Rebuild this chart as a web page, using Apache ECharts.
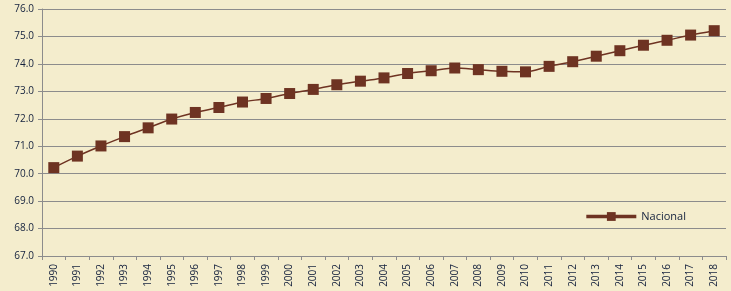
<!DOCTYPE html>
<html><head><meta charset="utf-8">
<script src="https://cdn.jsdelivr.net/npm/echarts@6/dist/echarts.min.js"></script>
<style>html,body{margin:0;padding:0;background:#f4edcd;}#c{width:731px;height:291px;}</style>
</head><body><div id="c"></div>
<script>
const years = ['1990','1991','1992','1993','1994','1995','1996','1997','1998','1999','2000','2001','2002','2003','2004','2005','2006','2007','2008','2009','2010','2011','2012','2013','2014','2015','2016','2017','2018'];
const nacional = [70.22,70.64,71.01,71.35,71.67,71.99,72.23,72.41,72.61,72.74,72.92,73.07,73.24,73.37,73.49,73.65,73.75,73.85,73.79,73.73,73.71,73.91,74.08,74.28,74.48,74.68,74.86,75.05,75.21];
const seriesName = 'Nacional';
const chart = echarts.init(document.getElementById('c'));
chart.setOption({
  backgroundColor: '#f4edcd',
  animation: false,
  grid: {left: 42, right: 5, top: 9, bottom: 35},
  legend: {
    data: [seriesName], right: 40, top: 206, itemWidth: 50, itemHeight: 11,
    lineStyle: {width: 3.5},
    textStyle: {color: '#14213d', fontSize: 11, fontFamily: 'Open Sans'}
  },
  xAxis: {
    type: 'category', data: years, boundaryGap: true,
    axisLine: {lineStyle: {color: '#8c8c8c'}},
    axisTick: {show: true, lineStyle: {color: '#8c8c8c'}, length: 4},
    axisLabel: {rotate: 90, color: '#14213d', fontSize: 10, fontFamily: 'Open Sans', margin: 8}
  },
  yAxis: {
    type: 'value', min: 67, max: 76, interval: 1,
    axisLine: {show: true, lineStyle: {color: '#8c8c8c'}},
    axisTick: {show: true, lineStyle: {color: '#8c8c8c'}, length: 4},
    splitLine: {lineStyle: {color: '#8c8c8c', width: 1}},
    axisLabel: {color: '#14213d', fontSize: 10, fontFamily: 'Open Sans', formatter: v => v.toFixed(1), margin: 8}
  },
  series: [{
    name: seriesName, type: 'line', data: nacional, smooth: 0.3,
    symbol: 'rect', symbolSize: 11,
    lineStyle: {color: '#6e3322', width: 1.5},
    itemStyle: {color: '#6e3322'}
  }]
});
</script></body></html>
